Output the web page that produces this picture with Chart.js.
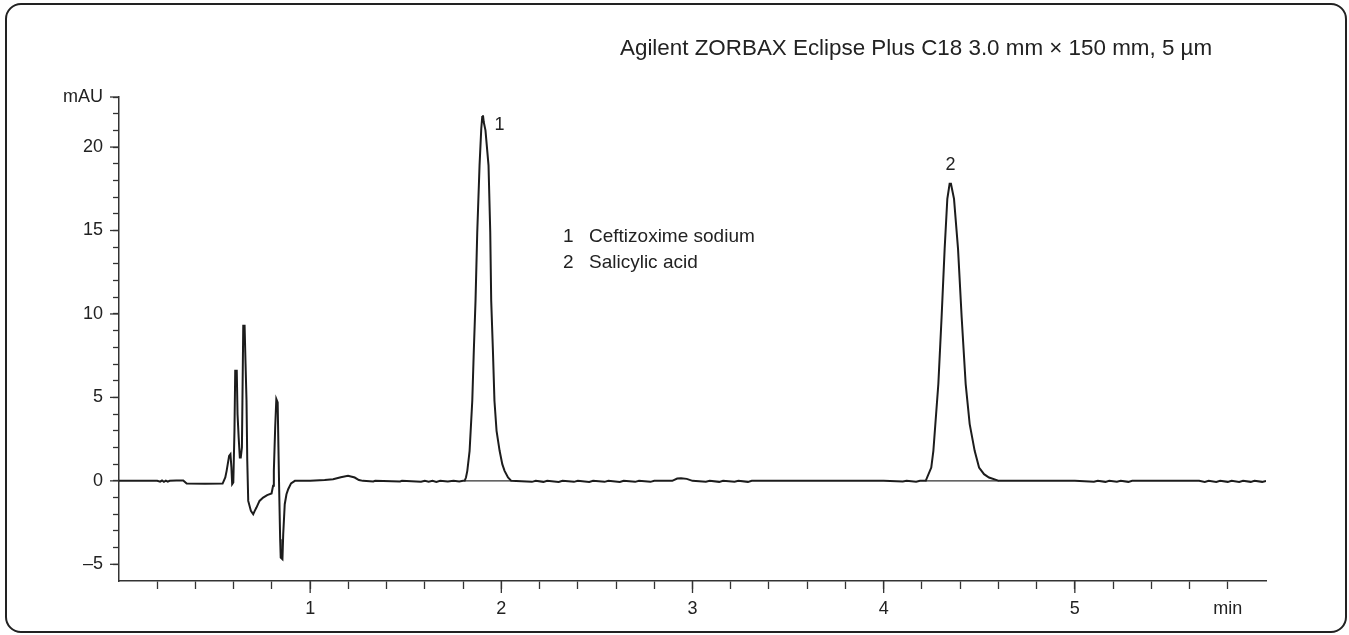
<!DOCTYPE html>
<html>
<head>
<meta charset="utf-8">
<script src="https://cdn.jsdelivr.net/npm/chart.js@4.4.1/dist/chart.umd.min.js"></script>
<style>
  body { margin: 0; background: #fff; }
  #wrap { position: relative; width: 1349px; height: 635px; overflow: hidden; }
  #frame { position: absolute; left: 5px; top: 3px; width: 1338px; height: 626px; border: 2px solid #222; border-radius: 16px; }
  #chart { position: absolute; left: 0; top: 0; }
  .txt { position: absolute; color: #222; font-family: 'Liberation Sans', Arial, sans-serif; white-space: nowrap; }
  #column { left: 620px; top: 35px; font-size: 22.4px; line-height: 26px; }
  #compounds { left: 563px; top: 223px; font-size: 19px; line-height: 26px; }
  #compounds span { display: inline-block; width: 26px; }
</style>
</head>
<body>
<div id="wrap">
  <div id="frame"></div>
  <canvas id="chart" width="1349" height="635"></canvas>
  <div class="txt" id="column"></div>
  <div class="txt" id="compounds"></div>
</div>
<script>
const FONT = "'Liberation Sans Narrow', 'Liberation Sans', Arial, sans-serif";

const columnTitle = 'Agilent ZORBAX Eclipse Plus C18 3.0 mm × 150 mm, 5 µm';
const peakNumbers = ['1', '2'];
const compounds = ['Ceftizoxime sodium', 'Salicylic acid'];
// where the peak numbers sit, in minutes / mAU
const peakLabelTime = [1.991, 4.350];
const peakLabelValue = [21.3, 18.9];

// retention time (min) and absorbance (mAU)
const times = [
  0.00, 0.05, 0.10, 0.15, 0.20, 0.215, 0.225, 0.235, 0.245, 0.255, 0.265, 0.30, 0.336, 0.354, 0.45, 0.542,
  0.556, 0.563, 0.576, 0.583, 0.588, 0.592, 0.598, 0.604, 0.608, 0.616, 0.620, 0.626, 0.632, 0.637,
  0.643, 0.650, 0.657, 0.662, 0.667, 0.671, 0.676, 0.690, 0.702, 0.710, 0.719, 0.735, 0.754, 0.775,
  0.798, 0.806, 0.810, 0.817, 0.823, 0.830, 0.834, 0.838, 0.843, 0.846, 0.855, 0.859, 0.867, 0.876,
  0.885, 0.900, 0.920, 1.00, 1.076, 1.12, 1.16, 1.198, 1.233, 1.255, 1.276, 1.33, 1.34, 1.47, 1.48,
  1.58, 1.60, 1.62, 1.64, 1.66, 1.68, 1.72, 1.75, 1.78, 1.80, 1.808,
  1.815, 1.822, 1.834, 1.848, 1.856, 1.865, 1.874, 1.886, 1.895, 1.900, 1.904, 1.908, 1.917, 1.933,
  1.942, 1.947, 1.956, 1.964, 1.975, 1.991, 2.005, 2.017, 2.035, 2.052,
  2.16, 2.18, 2.22, 2.24, 2.30, 2.32, 2.38, 2.40, 2.46, 2.48, 2.54, 2.56, 2.62, 2.64, 2.70, 2.72, 2.78, 2.80,
  2.894, 2.92, 2.94, 2.97, 3.00, 3.07, 3.09, 3.14, 3.16, 3.22, 3.24, 3.29, 3.31, 3.60, 4.00,
  4.10, 4.12, 4.17, 4.19, 4.220,
  4.249, 4.260, 4.286, 4.303, 4.319, 4.333, 4.345, 4.352, 4.368, 4.389, 4.408, 4.429, 4.450, 4.476,
  4.499, 4.525, 4.551, 4.603, 5.00,
  5.10, 5.12, 5.16, 5.18, 5.22, 5.24, 5.28, 5.30, 5.33, 5.65, 5.68, 5.70, 5.74, 5.76, 5.80, 5.82,
  5.86, 5.88, 5.92, 5.94, 5.98, 6.00
];
const signal = [
  0.00, 0.00, 0.00, 0.00, 0.00, -0.05, 0.02, -0.06, 0.01, -0.05, 0.00, 0.02, 0.02, -0.16, -0.18, -0.16,
  0.2, 0.6, 1.5, 1.6, 0.8, -0.2, -0.1, 3.0, 6.6, 6.6, 4.0, 2.6, 1.4, 1.4,
  2.0, 9.3, 9.3, 7.0, 4.8, 1.2, -1.2, -1.8, -2.0, -1.8, -1.6, -1.2, -1.0, -0.85,
  -0.76, -0.3, 0.6, 3.2, 4.9, 4.7, 2.0, -0.6, -3.5, -4.6, -4.7, -3.2, -1.4, -0.8,
  -0.5, -0.15, 0.00, 0.00, 0.05, 0.10, 0.22, 0.30, 0.20, 0.05, 0.00, -0.04, 0.00, -0.04, 0.00,
  -0.05, 0.00, -0.05, 0.00, -0.06, 0.00, -0.04, 0.00, -0.04, 0.00, 0.00,
  0.2, 0.6, 1.8, 4.8, 7.8, 10.8, 14.9, 18.9, 21.1, 21.8, 21.9, 21.5, 21.0, 18.9,
  14.9, 10.8, 7.8, 4.8, 3.0, 1.8, 1.0, 0.6, 0.2, 0.00,
  -0.06, 0.00, -0.06, 0.00, -0.07, 0.00, -0.06, 0.00, -0.07, 0.00, -0.06, 0.00, -0.07, 0.00, -0.06, 0.00, -0.06, 0.00,
  0.00, 0.14, 0.16, 0.12, 0.00, -0.05, 0.00, -0.06, 0.00, -0.05, 0.00, -0.06, 0.00, 0.00, 0.00,
  -0.04, 0.00, -0.05, 0.00, 0.00,
  0.8, 1.8, 5.8, 9.8, 13.9, 16.9, 17.8, 17.8, 16.9, 13.9, 9.8, 5.8, 3.4, 1.8,
  0.8, 0.4, 0.2, 0.00, 0.00,
  -0.05, 0.00, -0.06, 0.00, -0.05, 0.00, -0.06, 0.00, 0.00, 0.00, -0.06, 0.00, -0.07, 0.00, -0.06, 0.00,
  -0.07, 0.00, -0.06, 0.00, -0.06, 0.00
];

// integration baselines drawn under the two peaks
const baseStart = [1.808, 4.220];
const baseEnd = [2.052, 4.603];

const xMin = 0, xMax = 6, xStep = 0.2;
const yMin = -6, yMax = 23, yStep = 1;
const xMajor = [1, 2, 3, 4, 5];
const yMajor = [-5, 0, 5, 10, 15, 20];
const xUnitAt = 5.8, xUnit = 'min';
const yUnitAt = 23, yUnit = 'mAU';

const near = (a, b) => Math.abs(a - b) < 1e-6;

document.getElementById('column').textContent = columnTitle;
document.getElementById('compounds').innerHTML = compounds
  .map((c, i) => '<div><span>' + peakNumbers[i] + '</span>' + c + '</div>').join('');

const trace = times.map((t, i) => ({ x: t, y: signal[i] }));
const baselines = [];
baseStart.forEach((s, i) => {
  baselines.push({ x: s, y: 0 }, { x: baseEnd[i], y: 0 }, { x: baseEnd[i], y: null });
});

const chromMarks = {
  id: 'chromMarks',
  afterDraw(chart) {
    const { ctx } = chart;
    const x = chart.scales.x, y = chart.scales.y;
    ctx.save();
    ctx.strokeStyle = '#333';
    ctx.lineWidth = 1.3;
    // labelled ticks are a bit longer than the minor ones
    xMajor.forEach(v => {
      const px = x.getPixelForValue(v);
      ctx.beginPath(); ctx.moveTo(px, x.top); ctx.lineTo(px, x.top + 12); ctx.stroke();
    });
    yMajor.concat([yUnitAt]).forEach(v => {
      const py = y.getPixelForValue(v);
      ctx.beginPath(); ctx.moveTo(y.right, py); ctx.lineTo(y.right - 9, py); ctx.stroke();
    });
    ctx.fillStyle = '#222';
    ctx.font = '18px ' + FONT;
    ctx.textAlign = 'center';
    ctx.textBaseline = 'middle';
    peakNumbers.forEach((n, i) => {
      ctx.fillText(n, x.getPixelForValue(peakLabelTime[i]), y.getPixelForValue(peakLabelValue[i]));
    });
    ctx.restore();
  }
};

new Chart(document.getElementById('chart'), {
  type: 'line',
  data: {
    datasets: [
      {
        data: trace,
        borderColor: '#1c1c1c',
        borderWidth: 2,
        pointRadius: 0,
        tension: 0,
        fill: false
      },
      {
        data: baselines,
        borderColor: '#333',
        borderWidth: 1.3,
        pointRadius: 0,
        spanGaps: false,
        fill: false
      }
    ]
  },
  options: {
    responsive: false,
    animation: false,
    events: [],
    layout: { padding: { left: 0, right: 83, top: 97, bottom: 0 } },
    plugins: { legend: { display: false }, tooltip: { enabled: false }, title: { display: false } },
    scales: {
      x: {
        type: 'linear',
        min: xMin,
        max: xMax,
        afterFit: s => { s.height = 54; },
        border: { display: true, color: '#333', width: 1.5 },
        grid: {
          drawOnChartArea: false,
          drawTicks: true,
          tickLength: 8,
          tickWidth: 1.3,
          tickColor: c => (c.tick && (near(c.tick.value, xMin) || near(c.tick.value, xMax))) ? 'rgba(0,0,0,0)' : '#333'
        },
        ticks: {
          stepSize: xStep,
          autoSkip: false,
          maxRotation: 0,
          padding: 9,
          color: '#222',
          font: { family: FONT, size: 18 },
          callback: v => {
            if (near(v, xUnitAt)) return xUnit;
            return xMajor.some(m => near(m, v)) ? String(Math.round(v)) : '';
          }
        }
      },
      y: {
        min: yMin,
        max: yMax,
        afterFit: s => { s.width = 119; },
        border: { display: true, color: '#333', width: 1.5 },
        grid: {
          drawOnChartArea: false,
          drawTicks: true,
          tickLength: 6,
          tickWidth: 1.3,
          tickColor: c => (c.tick && near(c.tick.value, yMin)) ? 'rgba(0,0,0,0)' : '#333'
        },
        ticks: {
          stepSize: yStep,
          autoSkip: false,
          padding: 10,
          color: '#222',
          font: { family: FONT, size: 18 },
          callback: v => {
            if (near(v, yUnitAt)) return yUnit;
            if (!yMajor.some(m => near(m, v))) return '';
            return v < 0 ? '\u2013' + Math.abs(v) : String(v);
          }
        }
      }
    }
  },
  plugins: [chromMarks]
});
</script>
</body>
</html>
